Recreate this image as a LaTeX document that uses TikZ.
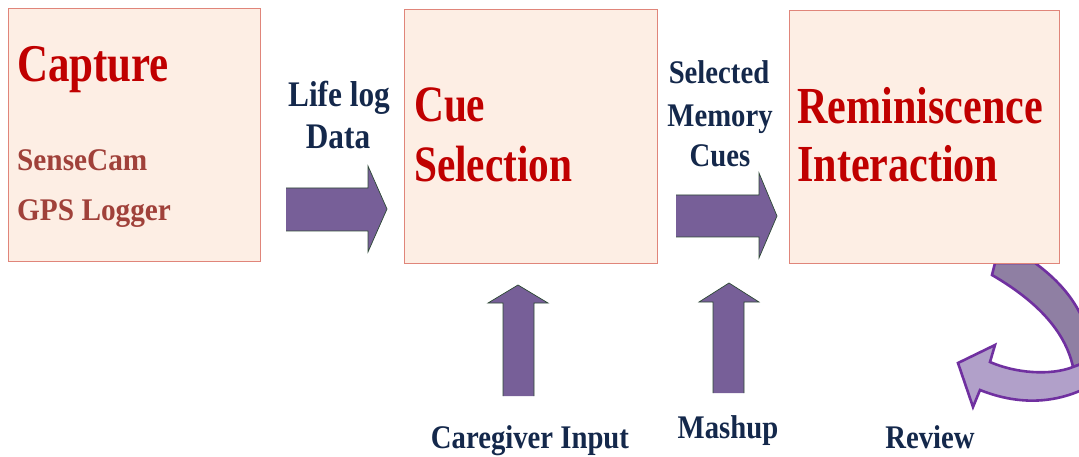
\documentclass[tikz,border=0pt]{standalone}
\usepackage{fontspec}
\setmainfont{Liberation Serif}
\newfontfamily\titlefont[FakeStretch=0.81]{Liberation Serif}
\newfontfamily\subfont[FakeStretch=0.93]{Liberation Serif}
\newfontfamily\lblfont[FakeStretch=0.87]{Liberation Serif}
\definecolor{boxfill}{HTML}{FDEEE4}
\definecolor{boxline}{HTML}{E0857A}
\definecolor{titlered}{HTML}{C00000}
\definecolor{subred}{HTML}{A0413A}
\definecolor{navy}{HTML}{14284B}
\definecolor{arrowfill}{HTML}{775F98}
\definecolor{arrowline}{HTML}{2E4A36}
\definecolor{revdark}{HTML}{8F7FA3}
\definecolor{revlight}{HTML}{B1A0C9}
\definecolor{revline}{HTML}{7030A0}
\tikzset{
  stagebox/.style={draw=boxline, fill=boxfill, line width=1.1pt, rectangle, anchor=north west, inner sep=0pt},
  titletext/.style={text=titlered, inner sep=0pt, anchor=base west, font={\titlefont\bfseries\fontsize{#1}{#1}\selectfont}},
  subtext/.style={text=subred, inner sep=0pt, anchor=base west, font={\subfont\bfseries\fontsize{31.5}{31.5}\selectfont}},
  lbltext/.style={text=navy, inner sep=0pt, anchor=base, font={\lblfont\bfseries\fontsize{#1}{#1}\selectfont}},
  blockfill/.style={fill=arrowfill},
  blockline/.style={draw=arrowline, line width=0.7pt, line join=miter},
  revfillA/.style={fill=revdark, draw=revline, line width=2.6pt, line join=miter},
  revfillB/.style={fill=revlight, draw=revline, line width=2.6pt, line join=miter}
}
\begin{document}
\begin{tikzpicture}[x=1pt,y=-1pt]
\useasboundingbox (0,0) rectangle (1079,457);
% Review curved arrow (clipped at picture edge)
\begin{scope}
\clip (0,0) rectangle (1079,457);
\path[revfillA] (995,263) -- (992,275) .. controls (1035,300) and (1065,330) .. (1073,367)
  -- (1092,360) .. controls (1090,315) and (1065,285) .. (1035,263) -- cycle;
\path[revfillB] (1073,367) .. controls (1050,376) and (1015,373) .. (990,362) -- (995,345)
  -- (958,363) -- (973,407) -- (980,390) .. controls (1010,402) and (1050,408) .. (1092,385)
  -- (1092,360) -- cycle;
\end{scope}
% Boxes
\node[stagebox, minimum width=252pt, minimum height=253pt] (capture) at (8,8) {};
\node[stagebox, minimum width=253pt, minimum height=254pt] (cuesel) at (404,9) {};
\node[stagebox, minimum width=270pt, minimum height=253pt] (remin) at (789,10) {};
% Titles
\node[titletext=53] (t1) at (17,81.7) {Capture};
\node[titletext=51] (t2a) at (414,121.7) {Cue};
\node[titletext=51] (t2b) at (414,181.7) {Selection};
\node[titletext=52] (t3a) at (797,123.3) {Reminiscence};
\node[titletext=52] (t3b) at (797,181.7) {Interaction};
\node[subtext] (s1) at (17,170.5) {SenseCam};
\node[subtext] (s2) at (17,221) {GPS Logger};
% Horizontal block arrows
\fill[blockfill] (286,188) -- (368,188) -- (368,166) -- (387,209) -- (368,252) -- (368,231) -- (286,231) -- cycle;
\draw[blockline] (286,188) -- (368,188) -- (368,166) -- (387,209) -- (368,252) -- (368,231) -- (286,231);
\fill[blockfill] (676,195) -- (759,195) -- (759,173) -- (777,216) -- (759,258) -- (759,237) -- (676,237) -- cycle;
\draw[blockline] (676,195) -- (759,195) -- (759,173) -- (777,216) -- (759,258) -- (759,237) -- (676,237);
% Vertical block arrows
\fill[blockfill] (503,396) -- (503,303) -- (488,303) -- (518,285) -- (548,303) -- (534,303) -- (534,396) -- cycle;
\draw[blockline] (503,396) -- (503,303) -- (488,303) -- (518,285) -- (548,303) -- (534,303) -- (534,396);
\fill[blockfill] (713,393) -- (713,302) -- (699,302) -- (729,283) -- (759,302) -- (744,302) -- (744,393) -- cycle;
\draw[blockline] (713,393) -- (713,302) -- (699,302) -- (729,283) -- (759,302) -- (744,302) -- (744,393);
% Labels
\node[lbltext=36] (l1a) at (339,107) {Life log};
\node[lbltext=36] (l1b) at (338,149) {Data};
\node[lbltext=33] (l2a) at (719,83.3) {Selected};
\node[lbltext=33] (l2b) at (720,126.7) {Memory};
\node[lbltext=33] (l2c) at (720,166.7) {Cues};
\node[lbltext=33] (l3) at (530,448.3) {Caregiver Input};
\node[lbltext=33] (l4) at (728,438.3) {Mashup};
\node[lbltext=33] (l5) at (930,448.3) {Review};
\end{tikzpicture}
\end{document}
